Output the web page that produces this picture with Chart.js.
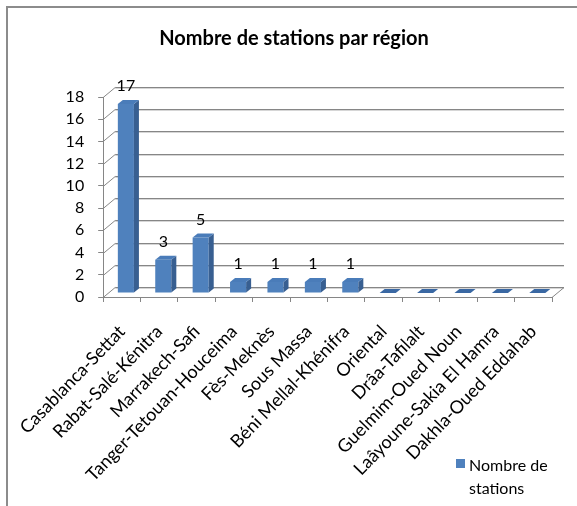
<!DOCTYPE html>
<html>
<head>
<meta charset="utf-8">
<script src="https://cdn.jsdelivr.net/npm/chart.js@4.4.0/dist/chart.umd.min.js"></script>
<style>
  html, body { margin: 0; padding: 0; background: #fff; overflow: hidden; }
  #wrap { position: relative; width: 577px; height: 506px; overflow: hidden; font-family: Lato, sans-serif; }
  #frame { position: absolute; left: 6px; top: 6px; width: 700px; height: 700px;
           border-left: 2px solid #8c8c8c; border-top: 2px solid #8c8c8c; }
  #chart { position: absolute; left: 0; top: 0; }
  #title { position: absolute; left: 0; top: 25px; width: 588px; text-align: center;
           font-size: 20px; font-weight: bold; line-height: 24px; color: #000; }
  #legend-box { position: absolute; left: 456px; top: 459px; width: 9px; height: 9px; background: #4f81bd; }
  #legend-text { position: absolute; left: 469px; top: 453px; font-size: 16px; line-height: 23px; color: #000; }
</style>
</head>
<body>
<div id="wrap">
  <div id="frame"></div>
  <canvas id="chart" width="577" height="506"></canvas>
  <div id="title"></div>
  <div id="legend-box"></div>
  <div id="legend-text"></div>
</div>
<script>
const chartTitle = 'Nombre de stations par région';
const legendLines = ['Nombre de', 'stations'];
const regions = [
    'Casablanca-Settat', 'Rabat-Salé-Kénitra', 'Marrakech-Safi', 'Tanger-Tetouan-Houceima',
    'Fès-Meknès', 'Sous Massa', 'Béni Mellal-Khénifra', 'Oriental',
    'Drâa-Tafilalt', 'Guelmim-Oued Noun', 'Laâyoune-Sakia El Hamra', 'Dakhla-Oued Eddahab'
];
const stations = [17, 3, 5, 1, 1, 1, 1, 0, 0, 0, 0, 0];
const yMin = 0;
const yMax = 18;
const yStep = 2;

document.getElementById('title').textContent = chartTitle;
document.getElementById('legend-text').innerHTML = legendLines.join('<br>');

// 3D look: depth of the walls and of the bars
const DX = 12, DY = -10;
const BAR_SHIFT_X = 4, BAR_SHIFT_Y = -4;
const BAR_DX = 5, BAR_DY = -4;
const GRID = '#868686';

function line(ctx, x1, y1, x2, y2, color) {
    ctx.strokeStyle = color;
    ctx.lineWidth = 1;
    ctx.beginPath();
    ctx.moveTo(x1, y1);
    ctx.lineTo(x2, y2);
    ctx.stroke();
}

const box3d = {
    id: 'box3d',
    beforeDatasetsDraw(chart) {
        const ctx = chart.ctx;
        const a = chart.chartArea;
        const y = chart.scales.y;
        ctx.save();
        y.ticks.forEach(t => {
            const py = Math.round(y.getPixelForValue(t.value)) + 0.5;
            line(ctx, a.left, py, a.left + DX, py + DY, GRID);
            line(ctx, a.left + DX, py + DY, a.right + DX, py + DY, GRID);
            line(ctx, a.left + DX, py + DY + 1, a.right + DX, py + DY + 1, '#d6d6d6');
        });
        const yb = Math.round(y.getPixelForValue(0)) + 0.5;
        line(ctx, a.right, yb, a.right + DX, yb + DY, GRID);
        ctx.restore();
        // bars sit in the middle of the depth
        ctx.save();
        ctx.translate(BAR_SHIFT_X, BAR_SHIFT_Y);
    },
    afterDatasetsDraw(chart) {
        const ctx = chart.ctx;
        const meta = chart.getDatasetMeta(0);
        meta.data.forEach((bar, i) => {
            const p = bar.getProps(['x', 'y', 'base', 'width'], true);
            const l = p.x - p.width / 2, r = p.x + p.width / 2;
            if (p.base - p.y > 0.5) {
                ctx.fillStyle = '#385f91';
                ctx.beginPath();
                ctx.moveTo(r, p.y);
                ctx.lineTo(r + BAR_DX, p.y + BAR_DY);
                ctx.lineTo(r + BAR_DX, p.base + BAR_DY);
                ctx.lineTo(r, p.base);
                ctx.closePath();
                ctx.fill();
            }
            ctx.fillStyle = stations[i] > 0 ? '#4a7cb9' : '#3a68a3';
            ctx.beginPath();
            ctx.moveTo(l, p.y);
            ctx.lineTo(r, p.y);
            ctx.lineTo(r + BAR_DX, p.y + BAR_DY);
            ctx.lineTo(l + BAR_DX, p.y + BAR_DY);
            ctx.closePath();
            ctx.fill();
        });
        ctx.restore();

        ctx.save();
        ctx.font = '16px Lato';
        ctx.fillStyle = '#000';
        ctx.textAlign = 'center';
        ctx.textBaseline = 'middle';
        meta.data.forEach((bar, i) => {
            if (stations[i] > 0) {
                ctx.fillText(String(stations[i]), bar.x + BAR_SHIFT_X, bar.y + BAR_SHIFT_Y - 18);
            }
        });
        ctx.restore();
    }
};

new Chart(document.getElementById('chart'), {
    type: 'bar',
    data: {
        labels: regions,
        datasets: [{
            label: legendLines.join(' '),
            data: stations,
            backgroundColor: '#4f81bd',
            borderWidth: 0,
            barPercentage: 0.43,
            categoryPercentage: 1
        }]
    },
    options: {
        responsive: false,
        animation: false,
        events: [],
        layout: { padding: { top: 97, right: 25, left: 0, bottom: 0 } },
        plugins: {
            legend: { display: false },
            title: { display: false },
            tooltip: { enabled: false }
        },
        scales: {
            x: {
                grid: { drawOnChartArea: false, drawTicks: true, tickLength: 5, color: GRID, offset: true },
                border: { display: true, color: GRID, width: 1 },
                ticks: {
                    autoSkip: false, minRotation: 46, maxRotation: 46, padding: 19,
                    color: '#000', font: { family: 'Lato', size: 18 }
                },
                afterFit(s) { s.height = 506 - 297; }
            },
            y: {
                min: yMin,
                max: yMax,
                grid: { drawOnChartArea: false, drawTicks: true, tickLength: 5, color: GRID },
                border: { display: true, color: GRID, width: 1 },
                ticks: {
                    stepSize: yStep, padding: 14, autoSkip: false,
                    color: '#000', font: { family: 'Lato', size: 16 }
                },
                afterFit(s) { s.width = 102; }
            }
        }
    },
    plugins: [box3d]
});
</script>
</body>
</html>
